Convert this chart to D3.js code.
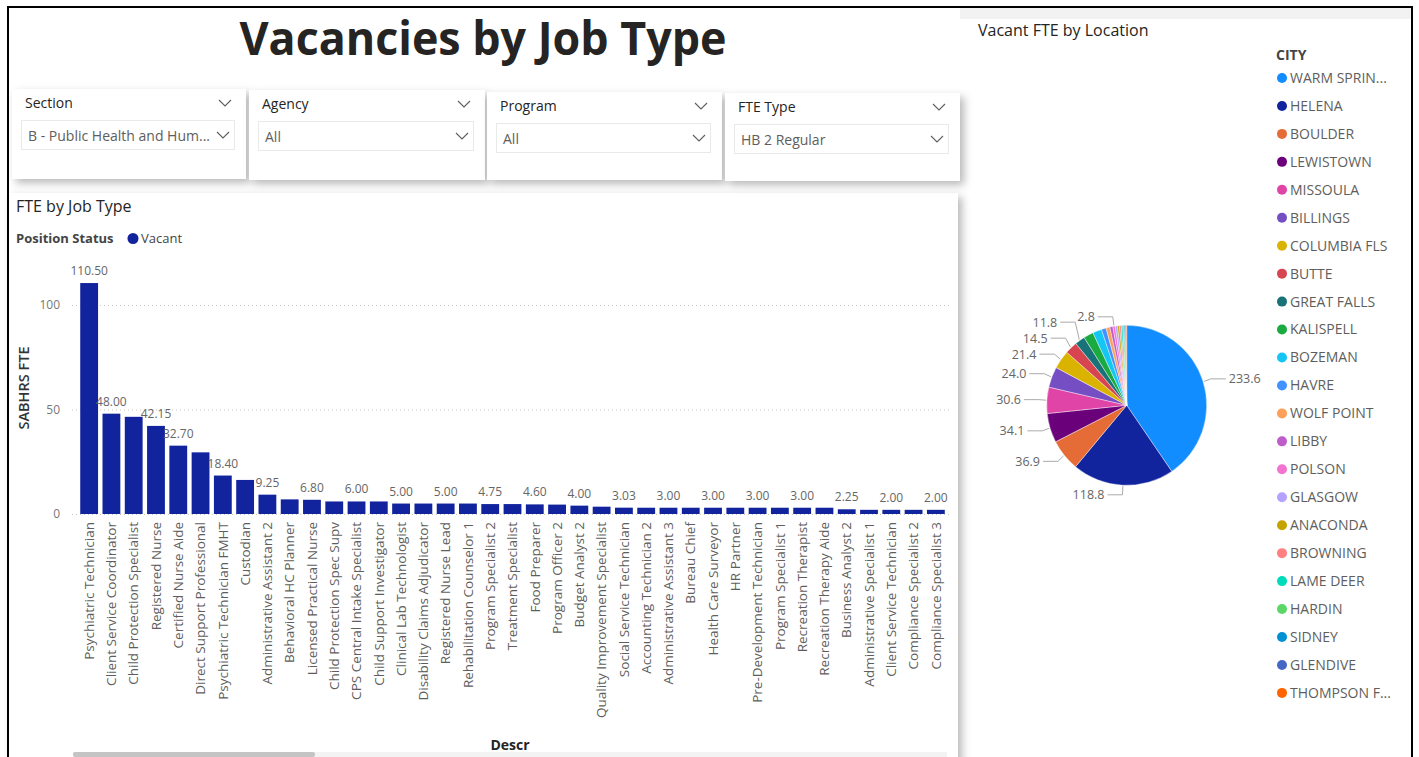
<!DOCTYPE html>
<html><head><meta charset="utf-8">
<script src="https://cdn.jsdelivr.net/npm/d3@7"></script>
<style>
html,body{margin:0;padding:0;background:#fff;overflow:hidden}
svg{display:block;font-family:"Open Sans","Segoe UI",sans-serif}
</style></head><body>
<svg id="c" width="1419" height="757"></svg>
<script>
// ---------------- DATA ----------------
const pageTitle = "Vacancies by Job Type";
const slicerTitles = ["Section", "Agency", "Program", "FTE Type"];
const slicerValues = ["B - Public Health and Human Services", "All", "All", "HB 2 Regular"];

const barTitle = "FTE by Job Type";
const legendTitle = "Position Status";
const seriesName = "Vacant";
const yAxisTitle = "SABHRS FTE";
const xAxisTitle = "Descr";
const yTicks = [0, 50, 100];

const jobTypes = [
  "Psychiatric Technician", "Client Service Coordinator", "Child Protection Specialist",
  "Registered Nurse", "Certified Nurse Aide", "Direct Support Professional",
  "Psychiatric Technician FMHT", "Custodian", "Administrative Assistant 2",
  "Behavioral HC Planner", "Licensed Practical Nurse", "Child Protection Spec Supv",
  "CPS Central Intake Specialist", "Child Support Investigator", "Clinical Lab Technologist",
  "Disability Claims Adjudicator", "Registered Nurse Lead", "Rehabilitation Counselor 1",
  "Program Specialist 2", "Treatment Specialist", "Food Preparer", "Program Officer 2",
  "Budget Analyst 2", "Quality Improvement Specialist", "Social Service Technician",
  "Accounting Technician 2", "Administrative Assistant 3", "Bureau Chief",
  "Health Care Surveyor", "HR Partner", "Pre-Development Technician", "Program Specialist 1",
  "Recreation Therapist", "Recreation Therapy Aide", "Business Analyst 2",
  "Administrative Specialist 1", "Client Service Technician", "Compliance Specialist 2",
  "Compliance Specialist 3"
];
const vacantFTE = [
  110.50, 48.00, 46.50, 42.15, 32.70, 29.50, 18.40, 16.30, 9.25,
  7.00, 6.80, 6.00, 6.00, 6.00, 5.00, 5.00, 5.00, 5.00,
  4.75, 4.75, 4.60, 4.50, 4.00, 3.50, 3.03,
  3.00, 3.00, 3.00, 3.00, 3.00, 3.00, 3.00, 3.00, 3.00,
  2.25, 2.00, 2.00, 2.00, 2.00
];

const pieTitle = "Vacant FTE by Location";
const pieLegendTitle = "CITY";
const cities = [
  "WARM SPRINGS", "HELENA", "BOULDER", "LEWISTOWN", "MISSOULA", "BILLINGS",
  "COLUMBIA FLS", "BUTTE", "GREAT FALLS", "KALISPELL", "BOZEMAN", "HAVRE",
  "WOLF POINT", "LIBBY", "POLSON", "GLASGOW", "ANACONDA", "BROWNING",
  "LAME DEER", "HARDIN", "SIDNEY", "GLENDIVE", "THOMPSON FALLS"
];
const cityFTE = [
  233.6, 118.8, 36.9, 34.1, 30.6, 24.0, 21.4, 14.5, 11.8, 11.5, 10.5, 5.5,
  4.5, 3.5, 2.8, 2.6, 2.3, 2.0, 1.8, 1.5, 1.2, 1.0, 0.8
];
const cityColors = [
  "#118DFF", "#12239E", "#E66C37", "#6B007B", "#E044A7", "#744EC2",
  "#D9B300", "#D64550", "#197278", "#1AAB40", "#15C6F4", "#4092FF",
  "#FFA058", "#BE5DC9", "#F472D0", "#B5A1FF", "#C4A200", "#FF8080",
  "#00DBBC", "#5BD667", "#0091D5", "#4668C5", "#FF6300"
];
const cityLabelShown = ["WARM SPRINGS", "HELENA", "BOULDER", "LEWISTOWN", "MISSOULA",
  "BILLINGS", "COLUMBIA FLS", "BUTTE", "GREAT FALLS", "POLSON"];

// ---------------- LAYOUT ----------------
const W = 1419, H = 757;
const barColor = "#12239E";
const svg = d3.select("#c");
const defs = svg.append("defs");
const flt = defs.append("filter").attr("id", "sh")
  .attr("x", "-10%").attr("y", "-10%").attr("width", "130%").attr("height", "130%");
flt.append("feDropShadow").attr("dx", 4).attr("dy", 4).attr("stdDeviation", 4)
  .attr("flood-color", "#000").attr("flood-opacity", 0.28);

svg.append("rect").attr("width", W).attr("height", H).attr("fill", "#fff");
svg.append("rect").attr("x", 960).attr("y", 8).attr("width", 452).attr("height", 11).attr("fill", "#f2f2f2");

function fitText(sel, full, maxW) {
  sel.text(full);
  if (sel.node().getComputedTextLength() <= maxW) return;
  let s = full;
  while (s.length > 1) {
    s = s.slice(0, -1);
    sel.text(s.trimEnd() + "...");
    if (sel.node().getComputedTextLength() <= maxW) return;
  }
}
function chevron(g, cx, cy) {
  g.append("path").attr("d", `M${cx - 6},${cy - 3}L${cx},${cy + 3}L${cx + 6},${cy - 3}`)
    .attr("fill", "none").attr("stroke", "#605E5C").attr("stroke-width", 1.1);
}

// bar panel
svg.append("rect").attr("x", 8).attr("y", 193).attr("width", 950).attr("height", 590)
  .attr("fill", "#fff").attr("filter", "url(#sh)");
// pie panel
svg.append("rect").attr("x", 973).attr("y", 19).attr("width", 436).attr("height", 760).attr("fill", "#fff");

// title
svg.append("text").attr("x", 483).attr("y", 55).attr("text-anchor", "middle")
  .attr("font-size", 47).attr("font-weight", 700).attr("fill", "#252423")
  .attr("textLength", 487).attr("lengthAdjust", "spacingAndGlyphs").text(pageTitle);

// slicers
const slicerBoxes = [
  {x: 12, y: 89, w: 234, h: 90}, {x: 249, y: 90, w: 236, h: 90},
  {x: 487, y: 92, w: 235, h: 88}, {x: 725, y: 93, w: 235, h: 88}
];
slicerBoxes.forEach((b, i) => {
  const g = svg.append("g").attr("transform", `translate(${b.x},${b.y})`);
  g.append("rect").attr("width", b.w).attr("height", b.h).attr("fill", "#fff").attr("filter", "url(#sh)");
  g.append("text").attr("x", 13).attr("y", 19).attr("font-size", 14).attr("fill", "#252423").text(slicerTitles[i]);
  chevron(g, b.w - 21, 14);
  g.append("rect").attr("x", 9.5).attr("y", 31.5).attr("width", b.w - 21).attr("height", 29)
    .attr("fill", "#fff").attr("stroke", "#e9e9e9");
  const t = g.append("text").attr("x", 16).attr("y", 52).attr("font-size", 14).attr("fill", "#605E5C");
  fitText(t, slicerValues[i], b.w - 52);
  chevron(g, b.w - 23, 46);
});

// ---------------- BAR CHART ----------------
svg.append("text").attr("x", 16).attr("y", 212).attr("font-size", 16).attr("fill", "#252423").text(barTitle);
svg.append("text").attr("x", 16).attr("y", 243).attr("font-size", 13)
  .attr("font-weight", 700).attr("fill", "#444").text(legendTitle);
svg.append("circle").attr("cx", 133).attr("cy", 238.5).attr("r", 5.5).attr("fill", barColor);
svg.append("text").attr("x", 141).attr("y", 243).attr("font-size", 13).attr("fill", "#444").text(seriesName);

const x = d3.scaleBand().domain(jobTypes).range([78, 947]).paddingInner(0.2).paddingOuter(0.1);
const y = d3.scaleLinear().domain([0, 120]).range([514, 263.2]);

const yAxis = svg.append("g").attr("transform", "translate(72,0)")
  .call(d3.axisLeft(y).tickValues(yTicks).tickSize(-880).tickPadding(12).tickFormat(d3.format("d")));
yAxis.select(".domain").remove();
yAxis.selectAll("line").attr("stroke", "#c8c8c8").attr("stroke-dasharray", "1,3");
yAxis.selectAll("text").attr("fill", "#777").attr("font-size", 12).attr("font-family", "Open Sans");

svg.append("text").attr("transform", "translate(29,388) rotate(-90)").attr("text-anchor", "middle")
  .attr("font-size", 14.5).attr("font-weight", 600).attr("fill", "#333").text(yAxisTitle);

const xAxis = svg.append("g").attr("transform", "translate(0,514)")
  .call(d3.axisBottom(x).tickSize(0).tickPadding(8));
xAxis.select(".domain").remove();
xAxis.selectAll("text")
  .attr("transform", "rotate(-90)").attr("x", -8).attr("y", 0).attr("dy", "0.35em")
  .style("text-anchor", "end").attr("fill", "#605E5C").attr("font-size", 13.5).attr("font-family", "Open Sans");

svg.append("text").attr("x", 510).attr("y", 750).attr("text-anchor", "middle")
  .attr("font-size", 14).attr("font-weight", 700).attr("fill", "#252423").text(xAxisTitle);

svg.append("g").selectAll("rect").data(jobTypes).join("rect")
  .attr("x", d => x(d)).attr("width", x.bandwidth())
  .attr("y", (d, i) => y(vacantFTE[i])).attr("height", (d, i) => y(0) - y(vacantFTE[i]))
  .attr("fill", barColor);

// data labels with collision hiding
const placed = [];
const lblG = svg.append("g");
jobTypes.forEach((d, i) => {
  const cx = x(d) + x.bandwidth() / 2;
  const by = y(vacantFTE[i]) - 8;
  const t = lblG.append("text").attr("x", cx).attr("y", by).attr("text-anchor", "middle")
    .attr("font-size", 12).attr("fill", "#666").text(d3.format(".2f")(vacantFTE[i]));
  const w = t.node().getComputedTextLength();
  const box = {x0: cx - w / 2 - 1, x1: cx + w / 2 + 1, y0: by - 12, y1: by + 2};
  const hit = placed.some(p => !(box.x1 < p.x0 || box.x0 > p.x1 || box.y1 < p.y0 || box.y0 > p.y1));
  if (hit) t.remove(); else placed.push(box);
});

// scrollbar
svg.append("rect").attr("x", 73).attr("y", 752).attr("width", 874).attr("height", 5).attr("fill", "#f3f3f3");
svg.append("rect").attr("x", 73).attr("y", 752).attr("width", 242).attr("height", 5).attr("rx", 2).attr("fill", "#c4c4c4");

// ---------------- PIE ----------------
svg.append("text").attr("x", 978).attr("y", 36).attr("font-size", 16).attr("fill", "#252423").text(pieTitle);

const pcx = 1126.7, pcy = 405.3, R = 80;
const pie = d3.pie().sort(null).value(d => d.v);
const pdata = pie(cities.map((c, i) => ({c, v: cityFTE[i], col: cityColors[i]})));
const arc = d3.arc().innerRadius(0).outerRadius(R);
const pg = svg.append("g").attr("transform", `translate(${pcx},${pcy})`);
pg.selectAll("path").data(pdata).join("path").attr("d", arc)
  .attr("fill", d => d.data.col).attr("stroke", "#fff").attr("stroke-width", 0.4);

// labels
const labs = pdata.filter(d => cityLabelShown.includes(d.data.c)).map(d => {
  const a = (d.startAngle + d.endAngle) / 2;
  const ex = Math.sin(a) * (R + 1), ey = -Math.cos(a) * (R + 1);
  const px = Math.sin(a) * R * 1.1, py = -Math.cos(a) * R * 1.12;
  return {d, a, ex, ey, px, py, left: px < 0, txt: d3.format(".1f")(d.data.v)};
});
const pl = pg.append("g");
labs.forEach(L => {
  L.t = pl.append("text").attr("font-size", 12.5).attr("fill", "#666").text(L.txt);
  L.w = L.t.node().getComputedTextLength();
});
// collision resolution on left side, from bottom up
const leftL = labs.filter(L => L.left).sort((a, b) => b.py - a.py);
const done = [];
const gap = 16;
leftL.forEach(L => {
  let changed = true;
  while (changed) {
    changed = false;
    const x1 = L.px - 18, x0 = x1 - L.w;
    for (const P of done) {
      const px1 = P.px - 18, px0 = px1 - P.w;
      if (!(x1 < px0 || x0 > px1) && Math.abs(P.py - L.py) < gap) { L.py = P.py - gap; changed = true; }
    }
  }
  done.push(L);
});
labs.forEach(L => {
  const s = L.left ? -1 : 1;
  pl.append("path").attr("d", `M${L.ex},${L.ey}L${L.px},${L.py}L${L.px + s * 15},${L.py}`)
    .attr("fill", "none").attr("stroke", "#aaa").attr("stroke-width", 1);
  L.t.attr("x", L.px + s * 18).attr("y", L.py).attr("dy", "0.35em")
    .attr("text-anchor", L.left ? "end" : "start");
});

// legend
svg.append("text").attr("x", 1276).attr("y", 60).attr("font-size", 14).attr("font-weight", 700)
  .attr("fill", "#444").text(pieLegendTitle);
const lg = svg.append("g");
cities.forEach((c, i) => {
  const yy = 78 + i * 27.95;
  lg.append("circle").attr("cx", 1282).attr("cy", yy).attr("r", 5).attr("fill", cityColors[i]);
  const t = lg.append("text").attr("x", 1290).attr("y", yy).attr("dy", "0.35em")
    .attr("font-size", 14).attr("fill", "#605E5C");
  fitText(t, c, 102);
});

// outer frame
svg.append("path").attr("d", "M8,758V7H1412V758").attr("fill", "none").attr("stroke", "#000").attr("stroke-width", 2);
</script>
</body></html>
